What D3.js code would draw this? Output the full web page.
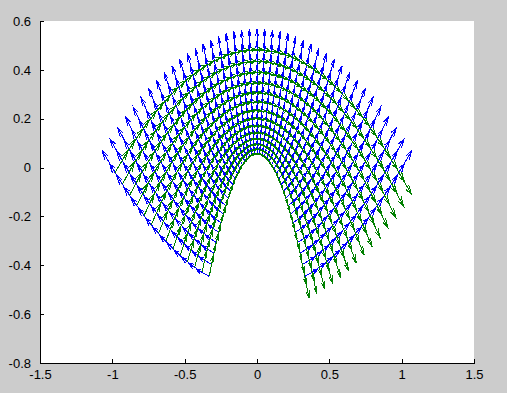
<!DOCTYPE html>
<html lang="en">
<head>
    <meta charset="UTF-8">
    <title>Quiver grid</title>
    <script src="https://d3js.org/d3.v7.min.js"></script>
    <style>
        html, body {
            margin: 0;
            padding: 0;
            background: #cccccc;
        }
        svg {
            display: block;
        }
        .tick text {
            font: 13px "Liberation Sans", Arial, sans-serif;
            fill: #000;
        }
        .arrow {
            fill: none;
            stroke-width: 1px;
            shape-rendering: crispEdges;
        }
    </style>
</head>
<body>

<svg width="507" height="393"></svg>

<script>
    // grid parameters (sigma along the arches, tau across them)
    const sigma = [-1, -0.95, -0.9, -0.85, -0.8, -0.75, -0.7, -0.65, -0.6, -0.55,
                   -0.5, -0.45, -0.4, -0.35, -0.3, -0.25, -0.2, -0.15, -0.1, -0.05,
                   0, 0.05, 0.1, 0.15, 0.2, 0.25, 0.3, 0.35, 0.4, 0.45,
                   0.5, 0.55, 0.6, 0.65, 0.7, 0.75, 0.8, 0.85, 0.9, 0.95, 1];
    const tau = [0.33, 0.38, 0.43, 0.48, 0.53, 0.58, 0.63, 0.68, 0.73, 0.78, 0.83, 0.88, 0.93, 0.98];

    const arrowScale = 0.09;

    const xTicks = [-1.5, -1, -0.5, 0, 0.5, 1, 1.5];
    const xTickLabels = ["-1.5", "-1", "-0.5", "0", "0.5", "1", "1.5"];
    const yTicks = [-0.8, -0.6, -0.4, -0.2, 0, 0.2, 0.4, 0.6];
    const yTickLabels = ["-0.8", "-0.6", "-0.4", "-0.2", "0", "0.2", "0.4", "0.6"];

    const svg = d3.select("svg");
    const plot = {left: 40, right: 474, top: 21, bottom: 363};

    const x = d3.scaleLinear().domain([-1.5, 1.5]).range([plot.left, plot.right]);
    const y = d3.scaleLinear().domain([-0.8, 0.6]).range([plot.bottom, plot.top]);

    // white axes area
    svg.append("rect")
        .attr("x", plot.left)
        .attr("y", plot.top)
        .attr("width", plot.right - plot.left)
        .attr("height", plot.bottom - plot.top)
        .attr("fill", "#fff");

    // grid nodes and their tangent vectors
    const nodes = [];
    tau.forEach(t => {
        sigma.forEach(s => {
            nodes.push({
                x: s * t,
                y: (t * t - s * s) / 2,
                blue: [s, t],
                green: [t, -s]
            });
        });
    });

    // matlab style arrow: shaft + two head strokes, computed in data units
    function arrowPath(d, vec) {
        const alpha = 0.33, beta = 0.33;
        const u = vec[0] * arrowScale, v = vec[1] * arrowScale;
        const tx = d.x + u, ty = d.y + v;
        const h1x = tx - alpha * (u + beta * v), h1y = ty - alpha * (v - beta * u);
        const h2x = tx - alpha * (u - beta * v), h2y = ty - alpha * (v + beta * u);
        return `M${x(d.x)},${y(d.y)}L${x(tx)},${y(ty)}` +
               `M${x(h1x)},${y(h1y)}L${x(tx)},${y(ty)}L${x(h2x)},${y(h2y)}`;
    }

    svg.append("clipPath").attr("id", "clip")
        .append("rect")
        .attr("x", plot.left).attr("y", plot.top)
        .attr("width", plot.right - plot.left).attr("height", plot.bottom - plot.top);

    const g = svg.append("g").attr("clip-path", "url(#clip)");

    g.selectAll(".blue")
        .data(nodes)
        .enter().append("path")
          .attr("class", "arrow blue")
          .attr("stroke", "#0000ff")
          .attr("d", d => arrowPath(d, d.blue));

    g.selectAll(".green")
        .data(nodes)
        .enter().append("path")
          .attr("class", "arrow green")
          .attr("stroke", "#008000")
          .attr("d", d => arrowPath(d, d.green));

    // axes, ticks pointing inward
    const xAxis = d3.axisBottom(x)
        .tickValues(xTicks)
        .tickFormat((d, i) => xTickLabels[i])
        .tickSizeInner(-4)
        .tickSizeOuter(0)
        .tickPadding(7);

    const yAxis = d3.axisLeft(y)
        .tickValues(yTicks)
        .tickFormat((d, i) => yTickLabels[i])
        .tickSizeInner(-4)
        .tickSizeOuter(0)
        .tickPadding(9);

    svg.append("g")
        .attr("transform", `translate(0,${plot.bottom})`)
        .call(xAxis)
        .call(a => a.selectAll("path, line").attr("stroke", "#000").attr("shape-rendering", "crispEdges"));

    svg.append("g")
        .attr("transform", `translate(${plot.left},0)`)
        .call(yAxis)
        .call(a => a.selectAll("path, line").attr("stroke", "#000").attr("shape-rendering", "crispEdges"));
</script>

</body>
</html>
